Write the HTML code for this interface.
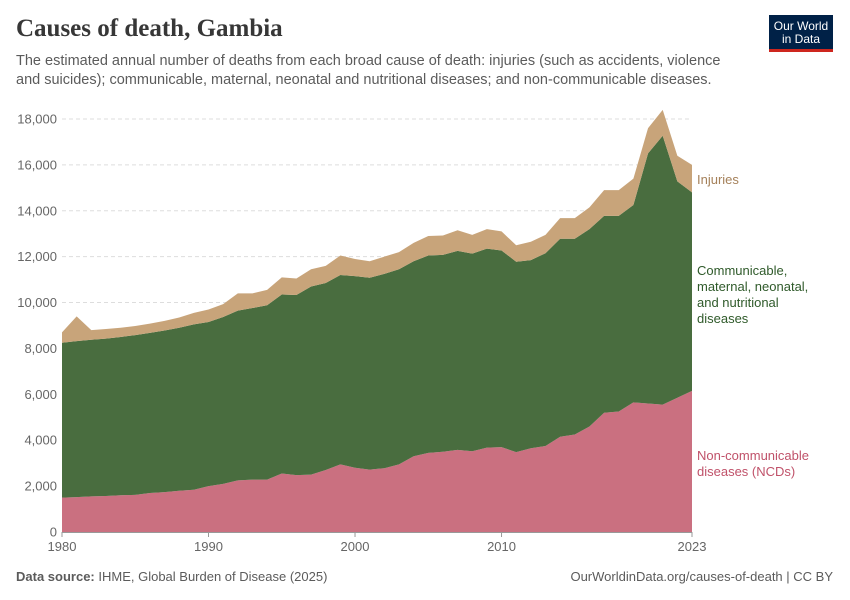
<!DOCTYPE html>
<html><head><meta charset="utf-8"><style>
body{margin:0;background:#fff;font-family:"Liberation Sans",sans-serif;}
#w{position:relative;width:850px;height:600px;overflow:hidden}
.t{position:absolute;margin:0}
</style></head><body><div id="w">
<h1 class="t" style="left:16px;top:15px;font-family:'Liberation Serif',serif;font-size:25px;font-weight:bold;color:#373737">Causes of death, Gambia</h1>
<p class="t" style="left:16px;top:52px;width:720px;font-size:14.5px;line-height:19px;color:#5b5b5b">The estimated annual number of deaths from each broad cause of death: injuries (such as accidents, violence and suicides); communicable, maternal, neonatal and nutritional diseases; and non-communicable diseases.</p>
<div class="t" style="left:769px;top:15px;width:64px;height:37px;background:#002147;border-bottom:3px solid #ce261e;color:#fff;font-size:12px;line-height:13px;text-align:center;padding-top:5px;box-sizing:border-box">Our World<br>in Data</div>
<svg id="c" class="t" style="left:0;top:0" width="850" height="600"></svg>
<p class="t" style="left:16px;top:569px;font-size:13px;color:#5b5b5b"><b>Data source:</b> IHME, Global Burden of Disease (2025)</p>
<p class="t" style="right:17px;top:569px;font-size:13px;color:#5b5b5b">OurWorldinData.org/causes-of-death | CC BY</p>
</div>
<script>
const years=[];for(let y=1980;y<=2023;y++)years.push(y);
const ncd=[1500,1520,1550,1570,1600,1620,1700,1740,1800,1840,2000,2100,2250,2280,2280,2550,2480,2500,2700,2950,2800,2720,2780,2950,3300,3450,3500,3580,3520,3680,3700,3480,3650,3750,4150,4250,4600,5200,5250,5650,5600,5550,5850,6150];
const cmnn=[6750,6800,6830,6860,6900,6960,6980,7040,7100,7210,7150,7270,7400,7480,7600,7800,7850,8200,8150,8250,8350,8360,8470,8500,8500,8600,8580,8670,8610,8670,8570,8300,8200,8400,8630,8530,8600,8580,8530,8600,10900,11720,9430,8650];
const injuries=[450,1080,420,420,400,400,400,420,450,500,550,560,750,640,670,750,720,750,750,850,750,720,750,750,800,850,840,900,820,850,830,720,800,800,900,900,950,1120,1120,1150,1100,1130,1120,1200];
const yTicks=[0,2000,4000,6000,8000,10000,12000,14000,16000,18000];
const xTicks=[1980,1990,2000,2010,2023];
const svg=document.getElementById('c'),NS='http://www.w3.org/2000/svg';
const X=y=>62+(y-1980)*630/43, Y=v=>532-v*413/18000;
function mk(t,a,txt){const e=document.createElementNS(NS,t);for(const k in a)e.setAttribute(k,a[k]);if(txt!=null)e.textContent=txt;svg.appendChild(e);return e;}
yTicks.forEach(v=>{
 if(v>0){const g=mk('line',{x1:62,x2:692,y1:Y(v),y2:Y(v),stroke:'#ddd','stroke-dasharray':'4,3'});
 
 }
 const t=mk('text',{x:57,y:Y(v)+4.5,'text-anchor':'end','font-size':13,fill:'#666'},v.toLocaleString('en-US'));
 
 
});
const series=[[ncd,'#ca7080','ncd-area'],[cmnn,'#496d3f','cmnn-area'],[injuries,'#c8a47a','injuries-area']];
let base=years.map(()=>0);
series.forEach(([d,col,name])=>{
 const top=base.map((b,i)=>b+d[i]);
 let p=years.map((y,i)=>X(y)+','+Y(top[i])).join(' ');
 p+=' '+years.map((y,i)=>X(y)+','+Y(base[i])).reverse().join(' ');
 const e=mk('polygon',{points:p,fill:col});
 
 
 base=top;
});
mk('line',{x1:62,x2:692,y1:532.5,y2:532.5,stroke:'#999'});
xTicks.forEach(y=>{
 mk('line',{x1:X(y),x2:X(y),y1:532,y2:537,stroke:'#999'});
 const t=mk('text',{x:X(y),y:551,'text-anchor':'middle','font-size':13,fill:'#666'},y);
 
 
});
const labs=[[['Injuries'],184,'#a5815a','injuries-label'],[['Communicable,','maternal, neonatal,','and nutritional','diseases'],275,'#2f5a2a','cmnn-label'],[['Non-communicable','diseases (NCDs)'],460,'#c0526a','ncd-label']];
labs.forEach(([ls,y0,col,name])=>{ls.forEach((s,i)=>{
 const t=mk('text',{x:697,y:y0+i*16,'font-size':13,fill:col},s);
 
 
});});
</script></body></html>
